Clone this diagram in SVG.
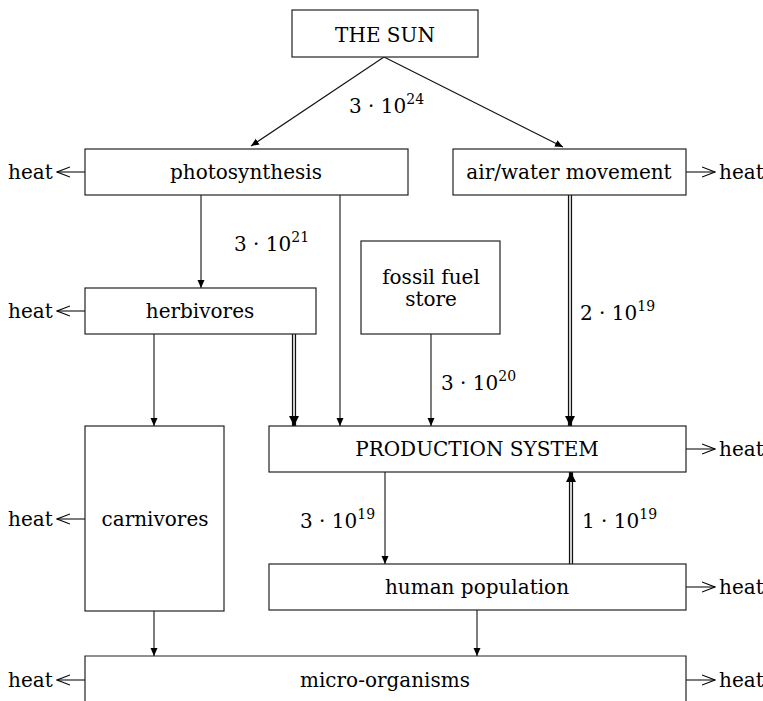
<svg xmlns="http://www.w3.org/2000/svg" width="763" height="701" viewBox="0 0 763 701">
<style>
text{font-family:"DejaVu Serif","Liberation Serif","Noto Serif",serif;font-size:20px;fill:#000}
.c{text-anchor:middle}
.box{fill:#fff;stroke:#222;stroke-width:1.2}
.ln{fill:none;stroke:#111;stroke-width:1.1}
.dbo{fill:none;stroke:#111;stroke-width:4.2}
.dbi{fill:none;stroke:#fff;stroke-width:1.6}
.sup{font-size:14px}
</style>
<defs>
<marker id="arr" viewBox="0 0 8 10" refX="8" refY="5" markerWidth="8" markerHeight="10" markerUnits="userSpaceOnUse" orient="auto">
<path d="M0,1.5 L8,5 L0,8.5 z" fill="#000"/>
</marker>
<marker id="arr2" viewBox="0 0 10 12" refX="10" refY="6" markerWidth="10" markerHeight="12" markerUnits="userSpaceOnUse" orient="auto">
<path d="M0,1 L10,6 L0,11 z" fill="#000"/>
</marker>
<marker id="open" viewBox="0 0 14 12" refX="13" refY="6" markerWidth="14" markerHeight="12" markerUnits="userSpaceOnUse" orient="auto">
<path d="M0,1 L13,6 L0,11" fill="none" stroke="#000" stroke-width="1.1"/>
</marker>
</defs>

<g id="connectors">
<line class="ln" x1="384" y1="57" x2="251" y2="146" marker-end="url(#arr)"/>
<line class="ln" x1="384" y1="57" x2="563" y2="147" marker-end="url(#arr)"/>
<line class="ln" x1="201" y1="195" x2="201" y2="288" marker-end="url(#arr)"/>
<line class="ln" x1="340" y1="195" x2="340" y2="426" marker-end="url(#arr)"/>
<line class="ln" x1="154" y1="334" x2="154" y2="426" marker-end="url(#arr)"/>
<line class="ln" x1="431" y1="334" x2="431" y2="426" marker-end="url(#arr)"/>
<line class="ln" x1="385" y1="472" x2="385" y2="564" marker-end="url(#arr)"/>
<line class="ln" x1="154" y1="611" x2="154" y2="656" marker-end="url(#arr)"/>
<line class="ln" x1="477" y1="610" x2="477" y2="656" marker-end="url(#arr)"/>
<line class="dbo" x1="294" y1="334" x2="294" y2="426" marker-end="url(#arr2)"/>
<line class="dbi" x1="294" y1="334" x2="294" y2="416"/>
<line class="dbo" x1="570" y1="195" x2="570" y2="426" marker-end="url(#arr2)"/>
<line class="dbi" x1="570" y1="195" x2="570" y2="416"/>
<line class="dbo" x1="571" y1="564" x2="571" y2="472" marker-end="url(#arr2)"/>
<line class="dbi" x1="571" y1="564" x2="571" y2="482"/>
<line class="ln" x1="85" y1="172" x2="57" y2="172" marker-end="url(#open)"/>
<line class="ln" x1="85" y1="311" x2="57" y2="311" marker-end="url(#open)"/>
<line class="ln" x1="85" y1="519" x2="57" y2="519" marker-end="url(#open)"/>
<line class="ln" x1="85" y1="680" x2="57" y2="680" marker-end="url(#open)"/>
<line class="ln" x1="686" y1="172" x2="715" y2="172" marker-end="url(#open)"/>
<line class="ln" x1="686" y1="449" x2="715" y2="449" marker-end="url(#open)"/>
<line class="ln" x1="686" y1="587" x2="715" y2="587" marker-end="url(#open)"/>
<line class="ln" x1="686" y1="680" x2="715" y2="680" marker-end="url(#open)"/>
<text x="349" y="113">3 · 10<tspan class="sup" dy="-9">24</tspan></text>
<text x="234" y="251">3 · 10<tspan class="sup" dy="-9">21</tspan></text>
<text x="580" y="320">2 · 10<tspan class="sup" dy="-9">19</tspan></text>
<text x="441" y="390">3 · 10<tspan class="sup" dy="-9">20</tspan></text>
<text x="300" y="528">3 · 10<tspan class="sup" dy="-9">19</tspan></text>
<text x="582" y="528">1 · 10<tspan class="sup" dy="-9">19</tspan></text>
<text x="8" y="179">heat</text>
<text x="8" y="318">heat</text>
<text x="8" y="526">heat</text>
<text x="8" y="687">heat</text>
<text x="719" y="179">heat</text>
<text x="719" y="456">heat</text>
<text x="719" y="594">heat</text>
<text x="719" y="687">heat</text>
</g>

<g id="sun"><rect class="box" x="292" y="10" width="186" height="47"/><text class="c" x="385" y="42">THE SUN</text></g>
<g id="photosynthesis"><rect class="box" x="85" y="149" width="323" height="46"/><text class="c" x="246" y="179">photosynthesis</text></g>
<g id="airwater"><rect class="box" x="453" y="149" width="233" height="46"/><text class="c" x="569" y="179">air/water movement</text></g>
<g id="herbivores"><rect class="box" x="85" y="288" width="231" height="46"/><text class="c" x="200" y="318">herbivores</text></g>
<g id="fossil"><rect class="box" x="361" y="241" width="139" height="93"/><text class="c" x="431" y="284">fossil fuel</text><text class="c" x="431" y="306">store</text></g>
<g id="production"><rect class="box" x="269" y="426" width="417" height="46"/><text class="c" x="477" y="456">PRODUCTION SYSTEM</text></g>
<g id="carnivores"><rect class="box" x="85" y="426" width="139" height="185"/><text class="c" x="155" y="526">carnivores</text></g>
<g id="human"><rect class="box" x="269" y="564" width="417" height="46"/><text class="c" x="477" y="594">human population</text></g>
<g id="micro"><path class="box" d="M85,702 V656 H686 V702"/><text class="c" x="385" y="687">micro-organisms</text></g>
</svg>
